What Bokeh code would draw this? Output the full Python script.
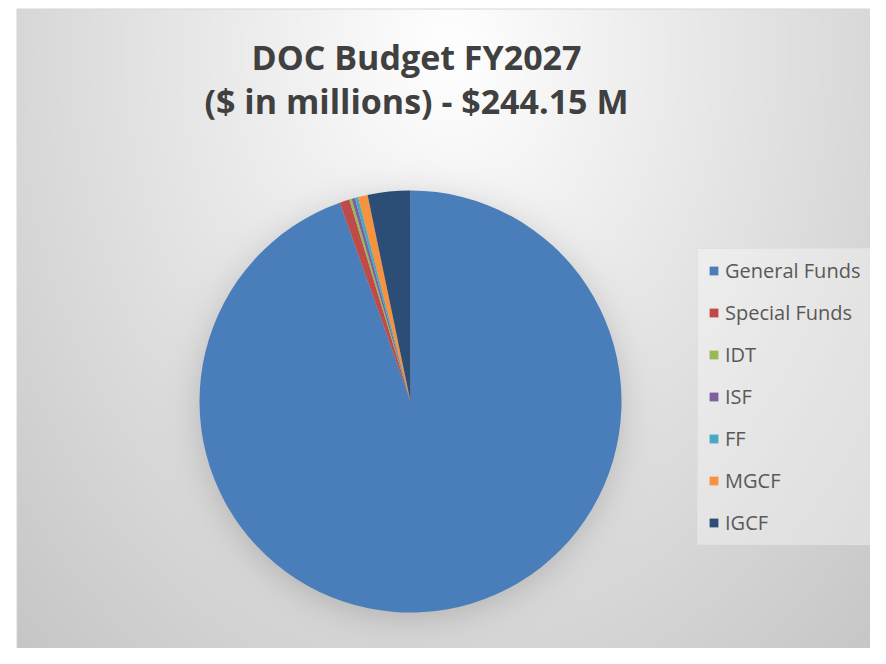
import numpy as np
from bokeh.plotting import figure
from bokeh.models import Range1d, Label, Legend, LegendItem, ColumnDataSource
from bokeh.embed import file_html
from bokeh.resources import INLINE

# ---- data ----
categories = ["General Funds", "Special Funds", "IDT", "ISF", "FF", "MGCF", "IGCF"]
amounts = [230.87, 1.85, 0.45, 0.62, 0.60, 1.80, 7.96]
colors = ["#4A7EBB", "#BE4B48", "#98B954", "#7D60A0", "#46AAC5", "#F69240", "#2C4D75"]
title_lines = ["DOC Budget FY2027", "($ in millions) - $244.15 M"]

W, H = 870, 648
CX, CY, R = 410, 401, 211  # pie centre / radius in picture pixels (from top-left)

p = figure(width=W, height=H, x_range=Range1d(0, W), y_range=Range1d(0, H),
           output_backend="svg", toolbar_location=None, min_border=0)
p.axis.visible = False
p.grid.visible = False
p.outline_line_color = None
p.background_fill_color = "white"
p.border_fill_color = "white"

# ---- background: radial grey gradient + soft pie shadow ----
cols = np.arange(W) + 0.5
rows = np.arange(H) + 0.5
SX, SY = np.meshgrid(cols, rows)
d = np.sqrt(((SX - 450) / 480) ** 2 + ((SY - 50) / 640) ** 2)
v = 255 - 44 * d
dist = np.sqrt((SX - CX) ** 2 + (SY - (CY + 5)) ** 2)
v = v - 38 / (1 + np.exp((dist - R) / 10))
v = np.clip(v, 0, 255)
v[SX < 16] = 255
v[SY < 8] = 255
v[(SX >= 16) & (SX < 17) & (SY >= 8)] = 214
v[(SY >= 8) & (SY < 9) & (SX >= 16)] = 214
img = np.zeros((H, W), dtype=np.uint32)
view = img.view(dtype=np.uint8).reshape((H, W, 4))
g = v.astype(np.uint8)
view[..., 0] = g
view[..., 1] = g
view[..., 2] = g
view[..., 3] = 255
img = np.ascontiguousarray(np.flipud(img))
p.image_rgba(image=[img], x=0, y=0, dw=W, dh=H)

# ---- pie ----
vals = np.array(amounts)
frac = vals / vals.sum()
cum = np.cumsum(frac)
start = np.pi / 2 - 2 * np.pi * (cum - frac)
end = np.pi / 2 - 2 * np.pi * cum
src = ColumnDataSource(dict(cat=categories, start=start, end=end, color=colors))
r = p.wedge(x=CX, y=H - CY, radius=R, start_angle="start", end_angle="end",
            direction="clock", fill_color="color", line_color=None, source=src)

# ---- title ----
for i, t in enumerate(title_lines):
    p.add_layout(Label(x=416, y=H - (56 + 44 * i), text=t,
                       text_align="center", text_baseline="alphabetic",
                       text_font="Open Sans", text_font_size="34px",
                       text_font_style="bold", text_color="#404040"))

# ---- legend box + legend ----
p.quad(left=697, right=871, top=H - 248, bottom=H - 544,
       fill_color="white", fill_alpha=0.35, line_color="#e0e0e0", line_width=1)
items = [LegendItem(label=c, renderers=[r], index=i) for i, c in enumerate(categories)]
leg = Legend(items=items, location=(708, H - 536), margin=0,
             padding=8, spacing=15, glyph_width=11, glyph_height=11,
             label_standoff=6, label_width=130, label_height=20,
             label_text_font="Open Sans", label_text_font_size="20px",
             label_text_color="#595959",
             background_fill_alpha=0, border_line_color=None)
p.add_layout(leg, "center")

open("out.html", "w").write(file_html(p, INLINE))
